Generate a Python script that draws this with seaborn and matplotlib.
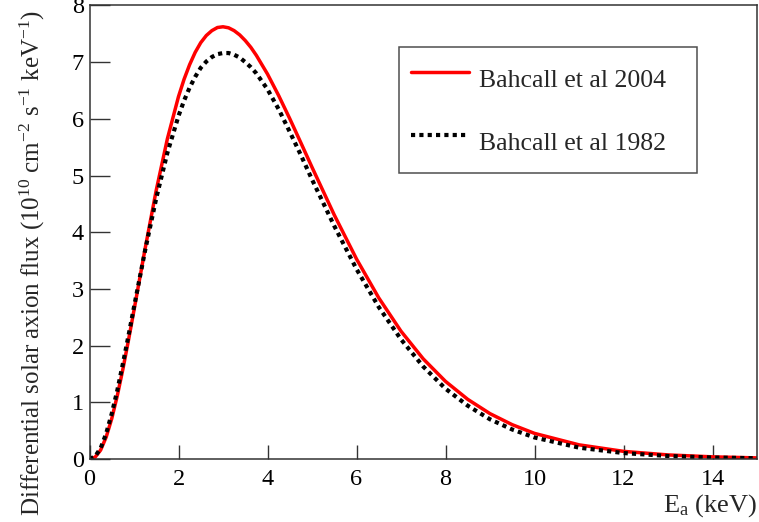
import numpy as np
import pandas as pd
import matplotlib
matplotlib.use("Agg")
import matplotlib.pyplot as plt
import seaborn as sns

# Energy grid (keV)
energy = [0.0, 0.125, 0.25, 0.375, 0.5, 0.625, 0.75, 0.875, 1.0, 1.25, 1.5, 1.75,
          2.0, 2.125, 2.25, 2.375, 2.5, 2.625, 2.75, 2.875, 3.0, 3.125, 3.25,
          3.375, 3.5, 3.625, 3.75, 4.0, 4.25, 4.5, 4.75, 5.0, 5.5, 6.0, 6.5,
          7.0, 7.5, 8.0, 8.5, 9.0, 9.5, 10.0, 11.0, 12.0, 13.0, 14.0, 15.0]
# Differential flux (1e10 cm^-2 s^-1 keV^-1)
flux_2004 = [0.0, 0.031, 0.157, 0.387, 0.712, 1.117, 1.583, 2.091, 2.625, 3.711,
             4.741, 5.647, 6.392, 6.697, 6.955, 7.172, 7.343, 7.469, 7.555, 7.610,
             7.623, 7.605, 7.555, 7.480, 7.380, 7.261, 7.118, 6.789, 6.411, 6.003,
             5.577, 5.146, 4.305, 3.528, 2.842, 2.254, 1.766, 1.369, 1.052, 0.800,
             0.605, 0.452, 0.250, 0.135, 0.072, 0.038, 0.0195]
flux_1982 = [0.0, 0.045, 0.19, 0.45, 0.80, 1.21, 1.68, 2.17, 2.68, 3.68, 4.60,
             5.40, 6.05, 6.32, 6.55, 6.74, 6.90, 7.01, 7.09, 7.14, 7.16, 7.16,
             7.13, 7.08, 7.00, 6.91, 6.80, 6.52, 6.17, 5.77, 5.36, 4.93, 4.11,
             3.35, 2.68, 2.11, 1.63, 1.24, 0.94, 0.70, 0.52, 0.38, 0.20, 0.105,
             0.053, 0.026, 0.013]
labels = ["Bahcall et al 2004", "Bahcall et al 1982"]
x_ticks = [0, 2, 4, 6, 8, 10, 12, 14]
y_ticks = [0, 1, 2, 3, 4, 5, 6, 7, 8]

sns.set_theme(style="white")
plt.rcParams["font.family"] = ["Liberation Serif", "DejaVu Serif"]
plt.rcParams["mathtext.fontset"] = "custom"
plt.rcParams["mathtext.rm"] = "Liberation Serif"
plt.rcParams["mathtext.it"] = "Liberation Serif:italic"

df_new = pd.DataFrame({"E": energy, "flux": flux_2004})
df_old = pd.DataFrame({"E": energy, "flux": flux_1982})

fig = plt.figure(figsize=(7.59, 5.22), dpi=100)
W, H = 759, 522
x0, x1, ytop, ybot = 89.5, 757.0, 5.4, 459.0
ax = fig.add_axes([x0 / W, 1 - ybot / H, (x1 - x0) / W, (ybot - ytop) / H])

sns.lineplot(data=df_new, x="E", y="flux", ax=ax, color="#ff0000", lw=2.5,
             label=labels[0])
sns.lineplot(data=df_old, x="E", y="flux", ax=ax, color="black", lw=3.0,
             label=labels[1])
ax.lines[1].set_linestyle((0, (1, 1)))

ax.set_xlim(0, 15)
ax.set_ylim(0, 8)
ax.set_xticks(x_ticks)
ax.set_yticks(y_ticks)
ax.set_xticks(np.arange(0, 15.01, 0.5), minor=True)
ax.set_yticks(np.arange(0, 8.01, 0.2), minor=True)
ax.tick_params(axis="both", which="both", direction="in", colors="#333333",
               labelcolor="black", width=1.0, labelsize=17.5)
ax.tick_params(axis="y", which="major", length=14.4, pad=4.0)
ax.tick_params(axis="y", which="minor", length=7.2)
ax.tick_params(axis="x", which="major", length=10, pad=7.0)
ax.tick_params(axis="x", which="minor", length=5)
ax.tick_params(left=True, bottom=True, top=False, right=False)
for s in ax.spines.values():
    s.set_color("#333333")
    s.set_linewidth(1.1)

ax.set_ylabel(r"Differential solar axion flux (10$^{10}$ cm$^{-2}$ s$^{-1}$ keV$^{-1}$)",
              fontsize=18)
ax.yaxis.set_label_coords(-0.064, 0.432)
ax.set_xlabel(r"E$_{\mathrm{a}}$ (keV)", fontsize=19, loc="right")
ax.xaxis.set_label_coords(1.0, -0.072)

bx0 = (399 - x0) / (x1 - x0)
bx1 = (697 - x0) / (x1 - x0)
btop = (ybot - 46.7) / (ybot - ytop)
leg = ax.legend(loc="upper left", bbox_to_anchor=(bx0, btop, bx1 - bx0, 0.0),
                mode="expand", fontsize=18.5, frameon=True, fancybox=False,
                borderpad=0.45, handleheight=2.04, labelspacing=0.88,
                handlelength=2.28, handletextpad=0.4, borderaxespad=0.0)
leg.get_frame().set_edgecolor("#222222")
leg.get_frame().set_linewidth(1.1)

fig.savefig("out.png", dpi=100)
